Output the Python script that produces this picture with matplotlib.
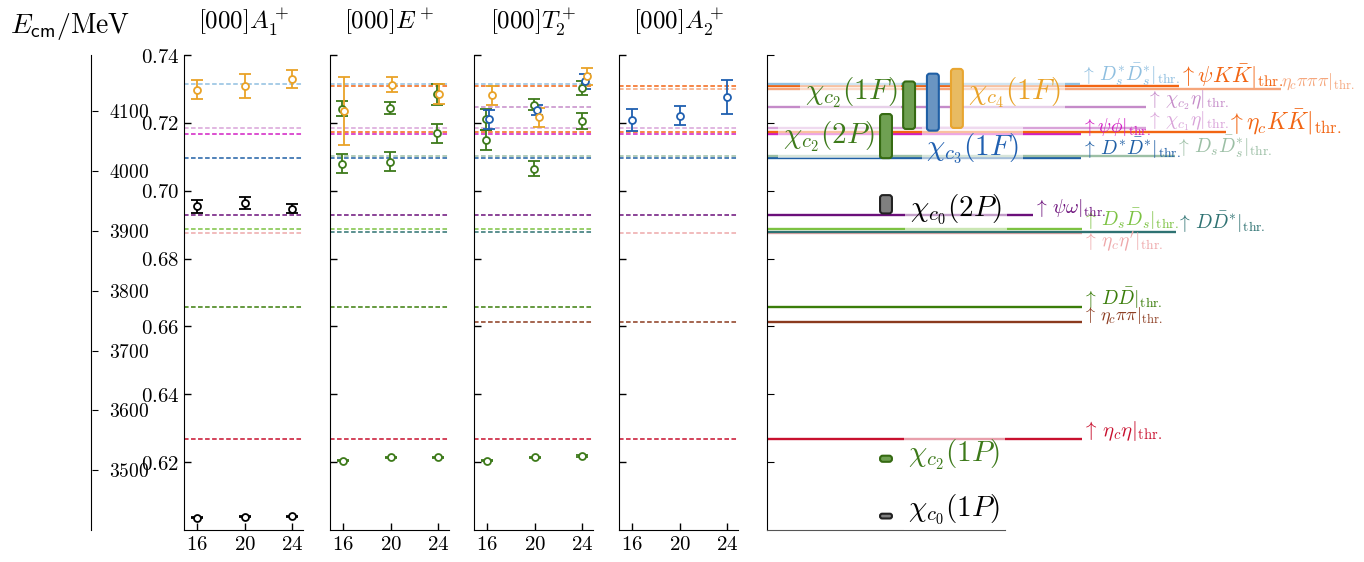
import matplotlib
matplotlib.use("Agg")
import matplotlib.pyplot as plt
from matplotlib.patches import FancyBboxPatch
from matplotlib.ticker import FuncFormatter

plt.rcParams['mathtext.fontset'] = 'cm'
plt.rcParams['font.family'] = ['DejaVu Serif']

# lattice volumes L/a_s
L_VALUES = [16, 20, 24]
AT_INV_MEV = 5667.0

# ---- finite-volume levels, a_t E_cm ----
a1_chic0_1p = [0.6036, 0.6039, 0.6040]
a1_chic0_1p_err = [0.0002, 0.0002, 0.0002]
a1_chic0_2p = [0.6954, 0.6964, 0.6947]
a1_chic0_2p_err = [0.0020, 0.0018, 0.0013]
a1_j4 = [0.7298, 0.7309, 0.7329]
a1_j4_err = [0.0029, 0.0036, 0.0026]

e_chic2_1p = [0.6204, 0.6214, 0.6214]
e_chic2_1p_err = [0.0002, 0.0002, 0.0002]
e_chic2_2p = [0.7080, 0.7085, 0.7169]
e_chic2_2p_err = [0.0028, 0.0028, 0.0028]
e_chic2_1f = [0.7242, 0.7244, 0.7284]
e_chic2_1f_err = [0.0022, 0.0017, 0.0031]
e_j4 = [0.7234, 0.7313, 0.7285]
e_j4_err = [0.0100, 0.0022, 0.0029]

t2_chic2_1p = [0.6204, 0.6214, 0.6218]
t2_chic2_1p_err = [0.0002, 0.0002, 0.0002]
t2_chic2_2p = [0.7149, 0.7065, 0.7205]
t2_chic2_2p_err = [0.0030, 0.0023, 0.0024]
t2_chic2_1f = [0.7211, 0.7254, 0.7303]
t2_chic2_1f_err = [0.0031, 0.0016, 0.0021]
t2_j3 = [0.7210, 0.7237, 0.7322]
t2_j3_err = [0.0027, 0.0015, 0.0022]
t2_j4 = [0.7281, 0.7216, 0.7337]
t2_j4_err = [0.0028, 0.0028, 0.0026]

a2_j3 = [0.7208, 0.7221, 0.7277]
a2_j3_err = [0.0033, 0.0028, 0.0050]

# ---- thresholds, a_t E ----
thr_keys = ['etac_eta', 'etac_pipi', 'DD', 'etac_etap', 'DDst', 'DsDs', 'psi_omega',
            'DstDst', 'DsDsst', 'psi_phi', 'etac_KK', 'chic1_eta', 'chic2_eta',
            'psi_KK', 'etac_3pi', 'DsstDsst']
thr_values = [0.6268, 0.6612, 0.6656, 0.6874, 0.6879, 0.6888, 0.6927,
              0.7096, 0.7103, 0.7166, 0.7172, 0.7186, 0.7247,
              0.7309, 0.7301, 0.7315]
thr_labels = [r'$\uparrow\,\eta_c\eta|_{\rm thr.}$',
              r'$\uparrow\,\eta_c\pi\pi|_{\rm thr.}$',
              r'$\uparrow\,D\bar{D}|_{\rm thr.}$',
              r"$\uparrow\,\eta_c\eta'|_{\rm thr.}$",
              r'$\uparrow\,D\bar{D}^{*}|_{\rm thr.}$',
              r'$\uparrow\,D_s\bar{D}_s|_{\rm thr.}$',
              r'$\uparrow\,\psi\omega|_{\rm thr.}$',
              r'$\uparrow\,D^{*}\bar{D}^{*}|_{\rm thr.}$',
              r'$\uparrow\,D_s\bar{D}_s^{*}|_{\rm thr.}$',
              r'$\uparrow\psi\phi|_{\rm thr.}$',
              r'$\uparrow\eta_cK\bar{K}|_{\rm thr.}$',
              r'$\uparrow\,\chi_{c_1}\eta|_{\rm thr.}$',
              r'$\uparrow\,\chi_{c_2}\eta|_{\rm thr.}$',
              r'$\uparrow\psi K\bar{K}|_{\rm thr.}$',
              r'$\eta_c\pi\pi\pi|_{\rm thr.}$',
              r'$\uparrow\,D_s^{*}\bar{D}_s^{*}|_{\rm thr.}$']
thr_colors = ['#c8102e', '#8b3a1e', '#3a7d0a', '#eea8aa', '#2e7272', '#7cc242', '#6b0f7a',
              '#1f5fa5', '#9cbfa5', '#d21fc3', '#f26513', '#d9a3d9', '#c58bc9',
              '#f26513', '#f5a57a', '#8fbfe0']

# thresholds drawn in each irrep
irrep_thr = {
    'A1': ['DsstDsst', 'chic1_eta', 'psi_phi', 'DstDst', 'psi_omega', 'DsDs', 'etac_etap', 'DD', 'etac_eta'],
    'E': ['DsstDsst', 'psi_KK', 'chic1_eta', 'etac_KK', 'psi_phi', 'DsDsst', 'DstDst', 'psi_omega',
          'DsDs', 'DDst', 'DD', 'etac_eta'],
    'T2': ['DsstDsst', 'psi_KK', 'chic2_eta', 'chic1_eta', 'etac_KK', 'psi_phi', 'DsDsst', 'DstDst',
           'psi_omega', 'DsDs', 'DDst', 'DD', 'etac_pipi', 'etac_eta'],
    'A2': ['psi_KK', 'etac_3pi', 'chic1_eta', 'etac_KK', 'psi_phi', 'DsDsst', 'DstDst', 'psi_omega',
           'etac_etap', 'etac_pipi', 'etac_eta'],
}

# ---- spectrum summary: mass and half-width of each band, a_t E ----
state_names = [r'$\chi_{c_0}(1P)$', r'$\chi_{c_2}(1P)$', r'$\chi_{c_0}(2P)$', r'$\chi_{c_2}(2P)$',
               r'$\chi_{c_2}(1F)$', r'$\chi_{c_3}(1F)$', r'$\chi_{c_4}(1F)$']
state_mass = [0.6041, 0.6210, 0.6960, 0.7161, 0.7252, 0.7261, 0.7272]
state_err = [0.0007, 0.0009, 0.0027, 0.0065, 0.0070, 0.0084, 0.0087]

BLACK = '#000000'
ORANGE = '#e9a227'
GREEN = '#3d7a1a'
BLUE = '#1f5fb0'

W, H = 1364, 562
fig = plt.figure(figsize=(W / 100, H / 100), dpi=100)
YLIM = (0.600, 0.740)
YTICKS = [0.62, 0.64, 0.66, 0.68, 0.70, 0.72, 0.74]


def px_axes(x0, x1, y0=55, y1=530):
    return fig.add_axes([x0 / W, 1 - y1 / H, (x1 - x0) / W, (y1 - y0) / H])


def style_panel(ax, labels):
    ax.set_ylim(*YLIM)
    ax.set_xlim(14.9, 24.9)
    for s in ['top', 'right']:
        ax.spines[s].set_visible(False)
    ax.set_yticks(YTICKS)
    ax.set_xticks(L_VALUES)
    ax.tick_params(direction='in', length=5, width=1, labelsize=15)
    ax.xaxis.set_major_formatter(FuncFormatter(lambda v, p: r'$%d$' % v))
    if labels:
        ax.yaxis.set_major_formatter(FuncFormatter(lambda v, p: r'$%.2f$' % v))
    else:
        ax.tick_params(labelleft=False)


def levels(ax, vals, errs, color, dx=0.0):
    x = [l + dx for l in L_VALUES]
    ax.errorbar(x, vals, yerr=errs, fmt='o', ms=5, mfc='white', mec=color, mew=1.3,
                ecolor=color, elinewidth=1.3, capsize=4.5, capthick=1.3, zorder=5)


def thresholds(ax, irrep):
    for key in irrep_thr[irrep]:
        i = thr_keys.index(key)
        ax.axhline(thr_values[i], color=thr_colors[i], ls=(0, (3, 1.6)), lw=1.1, zorder=1)


panels = [(184, 303, 'A1', r'$[000]A_1^+$'), (330, 449, 'E', r'$[000]E^+$'),
          (474, 593, 'T2', r'$[000]T_2^+$'), (619, 738, 'A2', r'$[000]A_2^+$')]
axs = {}
for x0, x1, key, title in panels:
    ax = px_axes(x0, x1)
    style_panel(ax, key == 'A1')
    thresholds(ax, key)
    fig.text((x0 + x1) / 2 / W, 1 - 22 / H, title, ha='center', va='center', fontsize=18)
    axs[key] = ax

levels(axs['A1'], a1_chic0_1p, a1_chic0_1p_err, BLACK)
levels(axs['A1'], a1_chic0_2p, a1_chic0_2p_err, BLACK)
levels(axs['A1'], a1_j4, a1_j4_err, ORANGE)

levels(axs['E'], e_chic2_1p, e_chic2_1p_err, GREEN)
levels(axs['E'], e_chic2_2p, e_chic2_2p_err, GREEN, -0.1)
levels(axs['E'], e_chic2_1f, e_chic2_1f_err, GREEN, -0.1)
levels(axs['E'], e_j4, e_j4_err, ORANGE, 0.1)

levels(axs['T2'], t2_chic2_1p, t2_chic2_1p_err, GREEN)
levels(axs['T2'], t2_chic2_2p, t2_chic2_2p_err, GREEN, -0.05)
levels(axs['T2'], t2_chic2_1f, t2_chic2_1f_err, GREEN, -0.05)
levels(axs['T2'], t2_j3, t2_j3_err, BLUE, 0.2)
levels(axs['T2'], t2_j4, t2_j4_err, ORANGE, 0.4)

levels(axs['A2'], a2_j3, a2_j3_err, BLUE)

# energy axis in MeV
axm = px_axes(91, 92)
axm.set_ylim(YLIM[0] * AT_INV_MEV, YLIM[1] * AT_INV_MEV)
for s in ['top', 'right', 'bottom']:
    axm.spines[s].set_visible(False)
axm.set_xticks([])
axm.set_yticks([3500, 3600, 3700, 3800, 3900, 4000, 4100])
axm.yaxis.set_major_formatter(FuncFormatter(lambda v, p: r'$%d$' % v))
axm.tick_params(axis='y', left=False, right=True, labelleft=False, labelright=True,
                direction='out', length=4, labelsize=14, pad=8)
fig.text(10 / W, 1 - 27 / H, r'$E_{\mathsf{cm}}/\mathrm{MeV}$', ha='left', va='center', fontsize=20)

# summary panel
axr = px_axes(767, 1005)
axr.set_ylim(*YLIM)
axr.set_xlim(0, 1)
for s in ['top', 'right']:
    axr.spines[s].set_visible(False)
axr.spines['bottom'].set_color('#555555')
axr.set_xticks([])
axr.set_yticks(YTICKS)
axr.tick_params(axis='y', direction='in', length=5, labelleft=False)

# where each threshold line stops, x in panel units, and label nudges in a_t E
thr_end = {'etac_eta': 1.324, 'etac_pipi': 1.324, 'DD': 1.324, 'etac_etap': 1.324,
           'DDst': 1.718, 'DsDs': 1.324, 'psi_omega': 1.118, 'DstDst': 1.32,
           'DsDsst': 1.714, 'psi_phi': 1.32, 'etac_KK': 1.929, 'chic1_eta': 1.592,
           'chic2_eta': 1.592, 'psi_KK': 1.731, 'etac_3pi': 2.16, 'DsstDsst': 1.315}
thr_shift = {'etac_etap': -0.0048}
thr_size = {'psi_KK': 16, 'etac_KK': 17, 'etac_eta': 15, 'etac_3pi': 13, 'etac_pipi': 13}

for key, v, lab, c in zip(thr_keys, thr_values, thr_labels, thr_colors):
    xe = thr_end[key]
    axr.plot([0, xe], [v, v], color=c, lw=1.7, clip_on=False, solid_capstyle='butt', zorder=2)
    axr.text(xe, v + 0.0008 + thr_shift.get(key, 0.0), lab, color=c, fontsize=thr_size.get(key, 14),
             ha='left', va='baseline', clip_on=False, zorder=3)

# bands for each state
box_x = [0.5, 0.5, 0.5, 0.5, 0.597, 0.697, 0.798]
box_fc = ['#7f7f7f', '#6fa052', '#7f7f7f', '#6fa052', '#6fa052', '#6a95c2', '#e8bb62']
box_ec = ['#222222', '#356a12', '#222222', '#356a12', '#356a12', '#1f5fa5', '#e8a530']
bw = 0.05
asp = (YLIM[1] - YLIM[0]) / 475 / (1 / 238)
for xc, m, e, fc, ec in zip(box_x, state_mass, state_err, box_fc, box_ec):
    r = min(0.012, e / asp * 0.9)
    p = FancyBboxPatch((xc - bw / 2, m - e), bw, 2 * e,
                       boxstyle='round,pad=0,rounding_size=%.4f' % r,
                       mutation_aspect=asp, fc=fc, ec=ec, lw=1.5, zorder=6)
    axr.add_patch(p)

lab_xy = [(0.592, 0.6062, 'left'), (0.592, 0.6221, 'left'), (0.600, 0.6947, 'left'),
          (0.454, 0.7159, 'right'), (0.546, 0.7288, 'right'), (0.668, 0.7126, 'left'),
          (0.845, 0.7288, 'left')]
lab_col = ['#000000', '#3d7a1a', '#000000', '#3d7a1a', '#3d7a1a', '#1f5fb0', '#e9a227']
for (lx, ly, ha), name, c in zip(lab_xy, state_names, lab_col):
    axr.text(lx, ly, name, color=c, fontsize=21, ha=ha, va='center', zorder=5, clip_on=False,
             bbox=dict(boxstyle='square,pad=0.15', fc='white', ec='none', alpha=0.6))

fig.savefig('out.png', dpi=100)
